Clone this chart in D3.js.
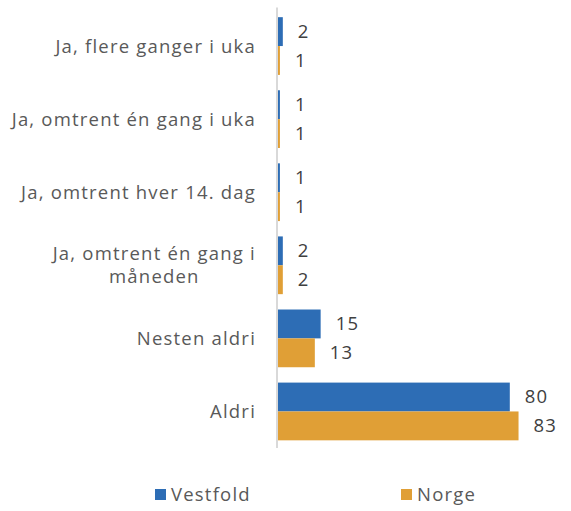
<!DOCTYPE html>
<html>
<head>
<meta charset="utf-8">
<script src="https://cdn.jsdelivr.net/npm/d3@7/dist/d3.min.js"></script>
<style>
  body { margin: 0; background: #fff; }
  svg { display: block; font-family: "Open Sans", sans-serif; }
</style>
</head>
<body>
<svg id="chart" width="571" height="511"></svg>
<script>
const categories = [
  "Ja, flere ganger i uka",
  "Ja, omtrent én gang i uka",
  "Ja, omtrent hver 14. dag",
  "Ja, omtrent én gang i|måneden",
  "Nesten aldri",
  "Aldri"
];
const seriesNames = ["Vestfold", "Norge"];
const vestfold = [2, 1, 1, 2, 15, 80];
const norge = [1, 1, 1, 2, 13, 83];
const colors = ["#2D6DB5", "#E09F36"];

const svg = d3.select("#chart");
const x0 = 277;
const plotTop = 9.5, plotBottom = 448;
const fontSize = 18.5;
const spacing = 1.2;

const x = d3.scaleLinear().domain([0, 100]).range([x0, x0 + 291]);
const y = d3.scaleBand().domain(categories).range([plotTop, plotBottom]).paddingInner(0.21).paddingOuter(0.105);
const ySub = d3.scaleBand().domain(seriesNames).range([0, y.bandwidth()]);

const rows = categories.map((c, i) => ({ cat: c, vals: [vestfold[i], norge[i]] }));

const g = svg.append("g");
rows.forEach(r => {
  r.vals.forEach((v, k) => {
    g.append("rect")
      .attr("x", x(0))
      .attr("y", y(r.cat) + ySub(seriesNames[k]))
      .attr("width", x(v) - x(0))
      .attr("height", ySub.bandwidth())
      .attr("fill", colors[k]);
    g.append("text")
      .attr("x", x(v) + 15)
      .attr("y", y(r.cat) + ySub(seriesNames[k]) + ySub.bandwidth() / 2)
      .attr("dy", "0.35em")
      .attr("font-size", fontSize)
      .attr("letter-spacing", spacing)
      .attr("fill", "#404040")
      .text(v);
  });
});

// vertical category axis
svg.append("line")
  .attr("x1", x0).attr("x2", x0)
  .attr("y1", plotTop - 2).attr("y2", plotBottom)
  .attr("stroke", "#d9d9d9").attr("stroke-width", 2);

// category labels, multi-line ones centred within a right-aligned block
const labelRight = 256;
categories.forEach(c => {
  const lines = c.split("|");
  const cy = y(c) + y.bandwidth() / 2;
  const lh = 23;
  const t = svg.append("text")
    .attr("font-size", fontSize)
    .attr("letter-spacing", spacing)
    .attr("fill", "#595959");
  const spans = lines.map((ln, i) => t.append("tspan")
    .attr("y", cy + (i - (lines.length - 1) / 2) * lh)
    .attr("dy", "0.35em")
    .text(ln));
  const widths = spans.map(s => s.node().getComputedTextLength());
  const wMax = Math.max(...widths);
  const cx = labelRight - wMax / 2;
  spans.forEach(s => s.attr("x", cx).attr("text-anchor", "middle"));
});

// legend
const legendX = [155, 401];
seriesNames.forEach((n, k) => {
  svg.append("rect")
    .attr("x", legendX[k]).attr("y", 489)
    .attr("width", 11).attr("height", 11)
    .attr("fill", colors[k]);
  svg.append("text")
    .attr("x", legendX[k] + 16).attr("y", 494.5)
    .attr("dy", "0.35em")
    .attr("font-size", fontSize)
    .attr("letter-spacing", spacing)
    .attr("fill", "#595959")
    .text(n);
});
</script>
</body>
</html>
